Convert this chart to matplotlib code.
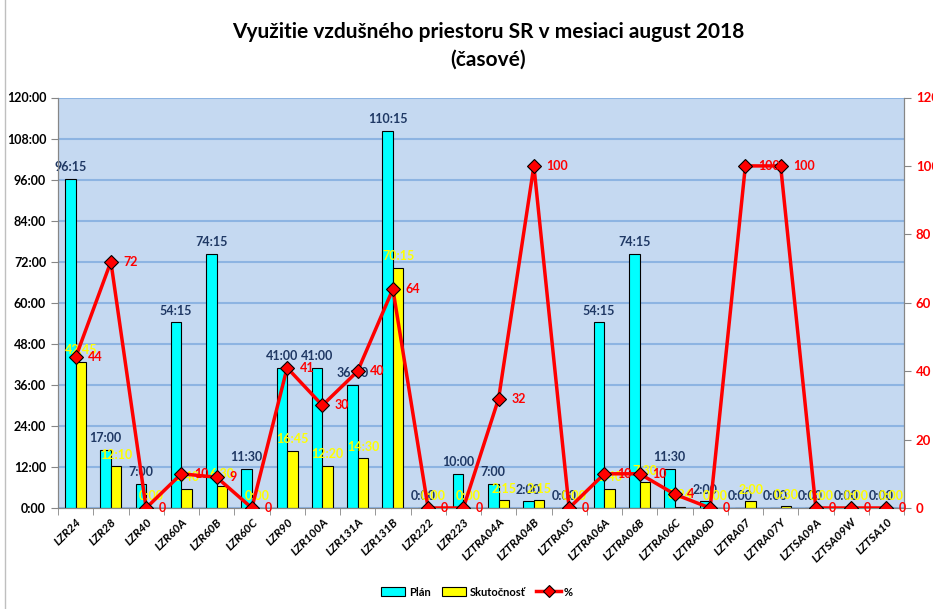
import numpy as np
import matplotlib
matplotlib.use("Agg")
import matplotlib.pyplot as plt
from matplotlib.lines import Line2D
from matplotlib.patches import Patch

plt.rcParams['font.family'] = ['Lato', 'DejaVu Sans']
plt.rcParams['font.weight'] = 'bold'

# data
letiska = ["LZR24", "LZR28", "LZR40", "LZR60A", "LZR60B", "LZR60C", "LZR90", "LZR100A",
           "LZR131A", "LZR131B", "LZR222", "LZR223", "LZTRA04A", "LZTRA04B", "LZTRA05",
           "LZTRA06A", "LZTRA06B", "LZTRA06C", "LZTRA06D", "LZTRA07", "LZTRA07Y",
           "LZTSA09A", "LZTSA09W", "LZTSA10"]
plan = ["96:15", "17:00", "7:00", "54:15", "74:15", "11:30", "41:00", "41:00", "36:00",
        "110:15", "0:00", "10:00", "7:00", "2:00", "0:00", "54:15", "74:15", "11:30",
        "2:00", "0:00", "0:00", "0:00", "0:00", "0:00"]
skutocnost = ["42:45", "12:10", "0:00", "5:40", "6:30", "0:00", "16:45", "12:20", "14:30",
              "70:15", "0:00", "0:00", "2:15", "2:15", "0:00", "5:40", "7:30", "0:24",
              "0:00", "2:00", "0:30", "0:00", "0:00", "0:00"]
percento = [44, 72, 0, 10, 9, 0, 41, 30, 40, 64, 0, 0, 32, 100, 0, 10, 10, 4, 0, 100, 100, 0, 0, 0]
y_ticks = ["0:00", "12:00", "24:00", "36:00", "48:00", "60:00", "72:00", "84:00",
           "96:00", "108:00", "120:00"]
y2_ticks = [0, 20, 40, 60, 80, 100, 120]


def hod(s):
    h, m = s.split(":")
    return int(h) + int(m) / 60


p = np.array([hod(s) for s in plan])
sk = np.array([hod(s) for s in skutocnost])
x = np.arange(len(letiska))

fig = plt.figure(figsize=(9.33, 6.09), dpi=100)
ax = fig.add_axes([58/933, 1-508/609, (904-58)/933, (508-97.5)/609])
ax.set_facecolor("#C5D9F1")
ax.set_xlim(-0.5, len(letiska)-0.5)
ax.set_ylim(0, 120)

ax.set_yticks([hod(s) for s in y_ticks])
ax.set_yticklabels(y_ticks, fontsize=9, fontweight='bold')
ax.yaxis.grid(True, color="#8DB4E2", lw=1.5)
ax.set_axisbelow(True)

w = 0.3
ax.bar(x - w/2, p, w, color="#00FFFF", edgecolor="black", lw=0.8, label="Plán", zorder=2)
ax.bar(x + w/2, sk, w, color="#FFFF00", edgecolor="black", lw=0.8, label="Skutočnosť", zorder=2)

for i in range(len(x)):
    ax.annotate(plan[i], (x[i] - w/2, p[i]), xytext=(0, 4), textcoords="offset points",
                ha="center", va="bottom", fontsize=9, fontweight="bold", color="#1F3864", zorder=5)
    ax.annotate(skutocnost[i], (x[i] + w/2, sk[i]), xytext=(0, 4), textcoords="offset points",
                ha="center", va="bottom", fontsize=9, fontweight="bold", color="#FFFF00", zorder=5)

ax.set_xticks(x)
ax.set_xticklabels(letiska, rotation=45, ha="right", rotation_mode="anchor",
                   fontsize=8.5, fontweight="bold", fontstyle="italic")
ax.tick_params(axis="x", length=0, pad=6)
ax.set_xticks(np.arange(-0.5, len(letiska), 1), minor=True)
ax.tick_params(axis="x", which="minor", length=5, color="#868686")
ax.tick_params(axis="y", length=5, color="#868686")

for s in ["left", "bottom", "right"]:
    ax.spines[s].set_color("#868686")
ax.spines["top"].set_visible(False)

ax2 = ax.twinx()
ax2.set_ylim(0, 120)
ax2.set_yticks(y2_ticks)
ax2.set_yticklabels([str(v) for v in y2_ticks], fontsize=9.5, fontweight="bold", color="#FF0000")
ax2.tick_params(axis="y", length=5, color="#868686")
for s in ["left", "bottom", "right"]:
    ax2.spines[s].set_color("#868686")
ax2.spines["top"].set_visible(False)
ax2.plot(x, percento, color="#FF0000", lw=2.5, marker="D", ms=7,
         markerfacecolor="#FF0000", markeredgecolor="black", markeredgewidth=0.8, zorder=4)
for i in range(len(x)):
    ax2.annotate(str(percento[i]), (x[i], percento[i]), xytext=(9, 0), textcoords="offset points",
                 ha="left", va="center", fontsize=9, fontweight="bold", color="#FF0000", zorder=5)

fig.text(0.523, 1-32/609, "Využitie vzdušného priestoru SR v mesiaci august 2018",
         ha="center", va="center", fontsize=15, fontweight="bold")
fig.text(0.523, 1-60/609, "(časové)", ha="center", va="center", fontsize=15, fontweight="bold")

handles = [Patch(facecolor="#00FFFF", edgecolor="black", lw=0.8),
           Patch(facecolor="#FFFF00", edgecolor="black", lw=0.8),
           Line2D([], [], color="#FF0000", lw=2.5, marker="D", ms=6,
                  markerfacecolor="#FF0000", markeredgecolor="black", markeredgewidth=0.8)]
fig.legend(handles, ["Plán", "Skutočnosť", "%"], loc="center", bbox_to_anchor=(477/933, 1-592/609),
           ncol=3, frameon=False, prop={"size": 8, "weight": "bold"},
           handlelength=2.2, handleheight=0.9, columnspacing=1.0, handletextpad=0.3)

fig.add_artist(Line2D([4.5/933, 4.5/933], [0, 1], color="#BFBFBF", lw=1))

fig.savefig("out.png", dpi=100)
